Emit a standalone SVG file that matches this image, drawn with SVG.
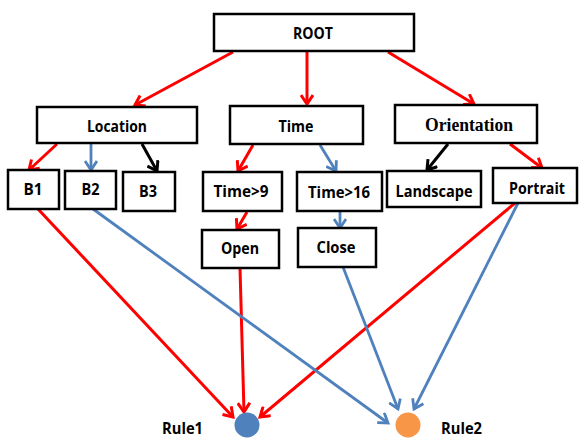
<svg xmlns="http://www.w3.org/2000/svg" width="579" height="439" viewBox="0 0 579 439">
<style>
.box{fill:#fff;stroke:#000;stroke-width:2.5}
.lbl{font-family:"Open Sans","Noto Sans","Liberation Sans",sans-serif;font-weight:bold;font-size:16px;fill:#000;text-anchor:middle}
.serif{font-family:"Liberation Serif","Times New Roman",serif;font-size:18px}
.r{stroke:#FF0000;stroke-width:3;fill:none}
.b{stroke:#4F81BD;stroke-width:2.8;fill:none}
.k{stroke:#000;stroke-width:3;fill:none}
</style>
<defs>
<marker id="ar" viewBox="0 0 14 14" refX="11" refY="7" markerWidth="14" markerHeight="14" markerUnits="userSpaceOnUse" orient="auto"><path d="M2,1 L11,7 L2,13" fill="none" stroke="#FF0000" stroke-width="3"/></marker>
<marker id="ab" viewBox="0 0 14 14" refX="11" refY="7" markerWidth="14" markerHeight="14" markerUnits="userSpaceOnUse" orient="auto"><path d="M2,1 L11,7 L2,13" fill="none" stroke="#4F81BD" stroke-width="2.8"/></marker>
<marker id="ak" viewBox="0 0 14 14" refX="11" refY="7" markerWidth="14" markerHeight="14" markerUnits="userSpaceOnUse" orient="auto"><path d="M2,1 L11,7 L2,13" fill="none" stroke="#000" stroke-width="3"/></marker>
</defs>
<rect width="579" height="439" fill="#fff"/>
<g id="connectors">
<line class="r" x1="233" y1="52" x2="135" y2="105" marker-end="url(#ar)"/>
<line class="r" x1="307" y1="52" x2="307" y2="104" marker-end="url(#ar)"/>
<line class="r" x1="388" y1="52" x2="474" y2="104" marker-end="url(#ar)"/>
<line class="r" x1="57" y1="144" x2="29" y2="170" marker-end="url(#ar)"/>
<line class="b" x1="91" y1="144" x2="91" y2="170" marker-end="url(#ab)"/>
<line class="k" x1="142" y1="144" x2="157" y2="171" marker-end="url(#ak)"/>
<line class="r" x1="253" y1="145" x2="238" y2="171" marker-end="url(#ar)"/>
<line class="b" x1="320" y1="145" x2="336" y2="171" marker-end="url(#ab)"/>
<line class="k" x1="448" y1="144" x2="427" y2="170" marker-end="url(#ak)"/>
<line class="r" x1="510" y1="144" x2="542" y2="168" marker-end="url(#ar)"/>
<line class="r" x1="247" y1="212" x2="237" y2="229" marker-end="url(#ar)"/>
<line class="b" x1="340" y1="212" x2="340" y2="228" marker-end="url(#ab)"/>
<line class="r" x1="38" y1="209" x2="233" y2="417" marker-end="url(#ar)"/>
<line class="r" x1="240" y1="268" x2="244" y2="412" marker-end="url(#ar)"/>
<line class="r" x1="515" y1="203" x2="260" y2="417" marker-end="url(#ar)"/>
<line class="b" x1="93" y1="209" x2="388" y2="423" marker-end="url(#ab)"/>
<line class="b" x1="343" y1="267" x2="398" y2="409" marker-end="url(#ab)"/>
<line class="b" x1="518" y1="203" x2="414" y2="409" marker-end="url(#ab)"/>
</g>
<g id="root"><rect class="box" x="214" y="14" width="200" height="37"/><text class="lbl" x="313" y="39" textLength="40" lengthAdjust="spacingAndGlyphs">ROOT</text></g>
<g id="location"><rect class="box" x="37" y="107" width="160" height="36"/><text class="lbl" x="117" y="132" textLength="60" lengthAdjust="spacingAndGlyphs">Location</text></g>
<g id="time"><rect class="box" x="230" y="106" width="133" height="38"/><text class="lbl" x="296" y="132" textLength="35" lengthAdjust="spacingAndGlyphs">Time</text></g>
<g id="orientation"><rect class="box" x="395" y="105" width="142" height="38"/><text class="lbl serif" x="469" y="131" textLength="88" lengthAdjust="spacingAndGlyphs">Orientation</text></g>
<g id="b1"><rect class="box" x="8" y="170" width="51" height="39"/><text class="lbl" x="33" y="195" textLength="19" lengthAdjust="spacingAndGlyphs">B1</text></g>
<g id="b2"><rect class="box" x="65" y="171" width="51" height="38"/><text class="lbl" x="90.5" y="195" textLength="18" lengthAdjust="spacingAndGlyphs">B2</text></g>
<g id="b3"><rect class="box" x="123" y="172" width="52" height="39"/><text class="lbl" x="148" y="197" textLength="18" lengthAdjust="spacingAndGlyphs">B3</text></g>
<g id="time9"><rect class="box" x="203" y="172" width="79" height="39"/><text class="lbl" x="241" y="197" textLength="55" lengthAdjust="spacingAndGlyphs">Time&gt;9</text></g>
<g id="time16"><rect class="box" x="297" y="172" width="85" height="39"/><text class="lbl" x="339" y="198" textLength="62" lengthAdjust="spacingAndGlyphs">Time&gt;16</text></g>
<g id="landscape"><rect class="box" x="387" y="171" width="94" height="36"/><text class="lbl" x="434" y="197" textLength="77" lengthAdjust="spacingAndGlyphs">Landscape</text></g>
<g id="portrait"><rect class="box" x="493" y="168" width="84" height="35"/><text class="lbl" x="537" y="194" textLength="56" lengthAdjust="spacingAndGlyphs">Portrait</text></g>
<g id="open"><rect class="box" x="202" y="230" width="77" height="38"/><text class="lbl" x="240" y="254" textLength="38" lengthAdjust="spacingAndGlyphs">Open</text></g>
<g id="close"><rect class="box" x="298" y="228" width="78" height="39"/><text class="lbl" x="336" y="253" textLength="39" lengthAdjust="spacingAndGlyphs">Close</text></g>
<g id="rule1"><circle cx="247" cy="425" r="12.5" fill="#4F81BD"/><text class="lbl" x="182.5" y="434" textLength="41" lengthAdjust="spacingAndGlyphs">Rule1</text></g>
<g id="rule2"><circle cx="408" cy="425" r="12.5" fill="#F79646"/><text class="lbl" x="461.5" y="434" textLength="41" lengthAdjust="spacingAndGlyphs">Rule2</text></g>
</svg>
